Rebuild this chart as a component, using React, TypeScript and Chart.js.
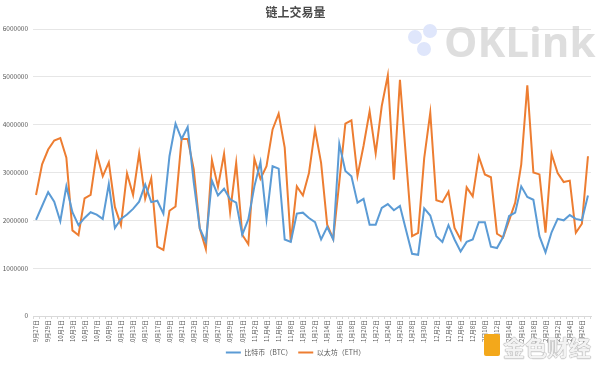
import React, { useEffect, useRef } from "react";
import { Chart, registerables } from "chart.js";

Chart.register(...registerables);

const FONT = "'Noto Sans CJK SC', 'Noto Sans', sans-serif";

const labels = [
  "9月27日", "9月28日", "9月29日", "9月30日",
  "10月1日", "10月2日", "10月3日", "10月4日", "10月5日", "10月6日", "10月7日", "10月8日",
  "10月9日", "10月10日", "10月11日", "10月12日", "10月13日", "10月14日", "10月15日", "10月16日",
  "10月17日", "10月18日", "10月19日", "10月20日", "10月21日", "10月22日", "10月23日", "10月24日",
  "10月25日", "10月26日", "10月27日", "10月28日", "10月29日", "10月30日", "10月31日",
  "11月1日", "11月2日", "11月3日", "11月4日", "11月5日", "11月6日", "11月7日", "11月8日",
  "11月9日", "11月10日", "11月11日", "11月12日", "11月13日", "11月14日", "11月15日", "11月16日",
  "11月17日", "11月18日", "11月19日", "11月20日", "11月21日", "11月22日", "11月23日", "11月24日",
  "11月25日", "11月26日", "11月27日", "11月28日", "11月29日", "11月30日",
  "12月1日", "12月2日", "12月3日", "12月4日", "12月5日", "12月6日", "12月7日", "12月8日",
  "12月9日", "12月10日", "12月11日", "12月12日", "12月13日", "12月14日", "12月15日", "12月16日",
  "12月17日", "12月18日", "12月19日", "12月20日", "12月21日", "12月22日", "12月23日", "12月24日",
  "12月25日", "12月26日", "12月27日",
];

const btcValues = [
  2010000, 2300000, 2590000, 2390000, 1980000, 2710000, 2170000, 1900000, 2050000, 2170000,
  2120000, 2030000, 2760000, 1840000, 2030000, 2120000, 2240000, 2390000, 2750000, 2380000,
  2410000, 2140000, 3340000, 4020000, 3700000, 3950000, 2800000, 1830000, 1550000, 2830000,
  2520000, 2660000, 2440000, 2370000, 1700000, 2020000, 2710000, 3220000, 2030000, 3130000,
  3080000, 1600000, 1550000, 2140000, 2160000, 2050000, 1960000, 1600000, 1860000, 1600000,
  3600000, 3030000, 2920000, 2370000, 2450000, 1910000, 1910000, 2260000, 2340000, 2210000,
  2300000, 1800000, 1300000, 1280000, 2250000, 2100000, 1670000, 1550000, 1900000, 1600000,
  1350000, 1550000, 1600000, 1960000, 1960000, 1450000, 1420000, 1650000, 2090000, 2160000,
  2710000, 2490000, 2430000, 1670000, 1330000, 1750000, 2030000, 2000000, 2110000, 2030000,
  2000000, 2520000,
];

const ethValues = [
  2530000, 3170000, 3480000, 3670000, 3720000, 3310000, 1790000, 1690000, 2460000, 2530000,
  3400000, 2920000, 3210000, 2280000, 1900000, 2980000, 2530000, 3400000, 2450000, 2880000,
  1450000, 1380000, 2200000, 2290000, 3700000, 3700000, 3070000, 1830000, 1400000, 3260000,
  2700000, 3390000, 2170000, 3200000, 1700000, 1500000, 3290000, 2870000, 3130000, 3900000,
  4230000, 3520000, 1550000, 2710000, 2520000, 2990000, 3900000, 3200000, 1910000, 1610000,
  2800000, 4020000, 4090000, 2930000, 3560000, 4280000, 3400000, 4390000, 5030000, 2850000,
  4940000, 3300000, 1670000, 1740000, 3300000, 4250000, 2420000, 2380000, 2600000, 1840000,
  1600000, 2690000, 2500000, 3330000, 2960000, 2900000, 1720000, 1640000, 2000000, 2370000,
  3170000, 4820000, 3000000, 2960000, 1740000, 3390000, 2990000, 2800000, 2830000, 1740000,
  1930000, 3340000,
];

const seriesNames = ["比特币（BTC）", "以太坊（ETH）"];
const title = "链上交易量";

export default function App() {
  const canvasRef = useRef<HTMLCanvasElement | null>(null);

  useEffect(() => {
    const canvas = canvasRef.current;
    if (!canvas) return;
    const chart = new Chart(canvas, {
      type: "line",
      data: {
        labels,
        datasets: [
          {
            label: seriesNames[0],
            data: btcValues,
            borderColor: "#5B9BD5",
            backgroundColor: "#5B9BD5",
            borderWidth: 2,
            pointRadius: 0,
            tension: 0,
          },
          {
            label: seriesNames[1],
            data: ethValues,
            borderColor: "#ED7D31",
            backgroundColor: "#ED7D31",
            borderWidth: 2,
            pointRadius: 0,
            tension: 0,
          },
        ],
      },
      options: {
        animation: false,
        responsive: false,
        maintainAspectRatio: false,
        layout: { padding: { left: 0, right: 9, top: 0, bottom: 0 } },
        plugins: {
          title: {
            display: true,
            text: title,
            color: "#4a4a4a",
            font: { family: FONT, size: 12, weight: "bold" },
            padding: { top: 5, bottom: 9.6 },
          },
          legend: {
            position: "bottom",
            labels: {
              usePointStyle: true,
              pointStyle: "line",
              pointStyleWidth: 15,
              boxHeight: 7,
              color: "#595959",
              font: { family: FONT, size: 7 },
              padding: 6,
            },
          },
          tooltip: { enabled: false },
        },
        scales: {
          x: {
            offset: true,
            grid: {
              offset: true,
              drawOnChartArea: false,
              tickLength: 3,
              color: "#d9d9d9",
            },
            border: { color: "#d9d9d9" },
            ticks: {
              autoSkip: false,
              maxRotation: 90,
              minRotation: 90,
              padding: 1,
              color: "#595959",
              font: { family: FONT, size: 6 },
              callback: (_v: any, i: number) => (i % 2 === 0 ? labels[i] : ""),
            },
            afterFit: (s: any) => {
              s.height = 27;
            },
          },
          y: {
            min: 0,
            max: 6000000,
            ticks: {
              stepSize: 1000000,
              padding: 5,
              color: "#595959",
              font: { family: FONT, size: 6.5 },
              callback: (v: any) => String(v),
            },
            grid: { color: "#e6e6e6", drawTicks: false },
            border: { display: false },
            afterFit: (s: any) => {
              s.width = 33;
            },
          },
        },
      },
    });
    return () => chart.destroy();
  }, []);

  return (
    <div
      style={{
        position: "fixed",
        left: 0,
        top: 0,
        width: 600,
        height: 366,
        background: "#ffffff",
        overflow: "hidden",
      }}
    >
      <canvas ref={canvasRef} width={600} height={366} style={{ display: "block" }} />
      <div style={{ position: "absolute", left: 408, top: 30, width: 14, height: 14, borderRadius: 7, background: "#dfe6fb", pointerEvents: "none" }} />
      <div style={{ position: "absolute", left: 423, top: 24, width: 14, height: 14, borderRadius: 7, background: "#dfe6fb", pointerEvents: "none" }} />
      <div style={{ position: "absolute", left: 417, top: 42, width: 14, height: 14, borderRadius: 7, background: "#dfe6fb", pointerEvents: "none" }} />
      <div
        style={{
          position: "absolute",
          left: 444,
          top: 12,
          fontFamily: "'Open Sans', 'DejaVu Sans', sans-serif",
          fontWeight: 700,
          fontSize: 42,
          color: "rgba(200,200,200,0.6)",
          pointerEvents: "none",
          letterSpacing: 0,
        }}
      >
        OKLink
      </div>
      <div style={{ position: "absolute", left: 484, top: 334, width: 16, height: 22, borderRadius: 2, background: "#f3a81b", pointerEvents: "none" }} />
      <div
        style={{
          position: "absolute",
          left: 503,
          top: 330,
          fontFamily: FONT,
          fontSize: 22,
          fontWeight: 700,
          color: "rgba(255,255,255,0.9)",
          textShadow: "0 0 1px #888, 0 0 1px #888",
          pointerEvents: "none",
        }}
      >
        金色财经
      </div>
    </div>
  );
}
